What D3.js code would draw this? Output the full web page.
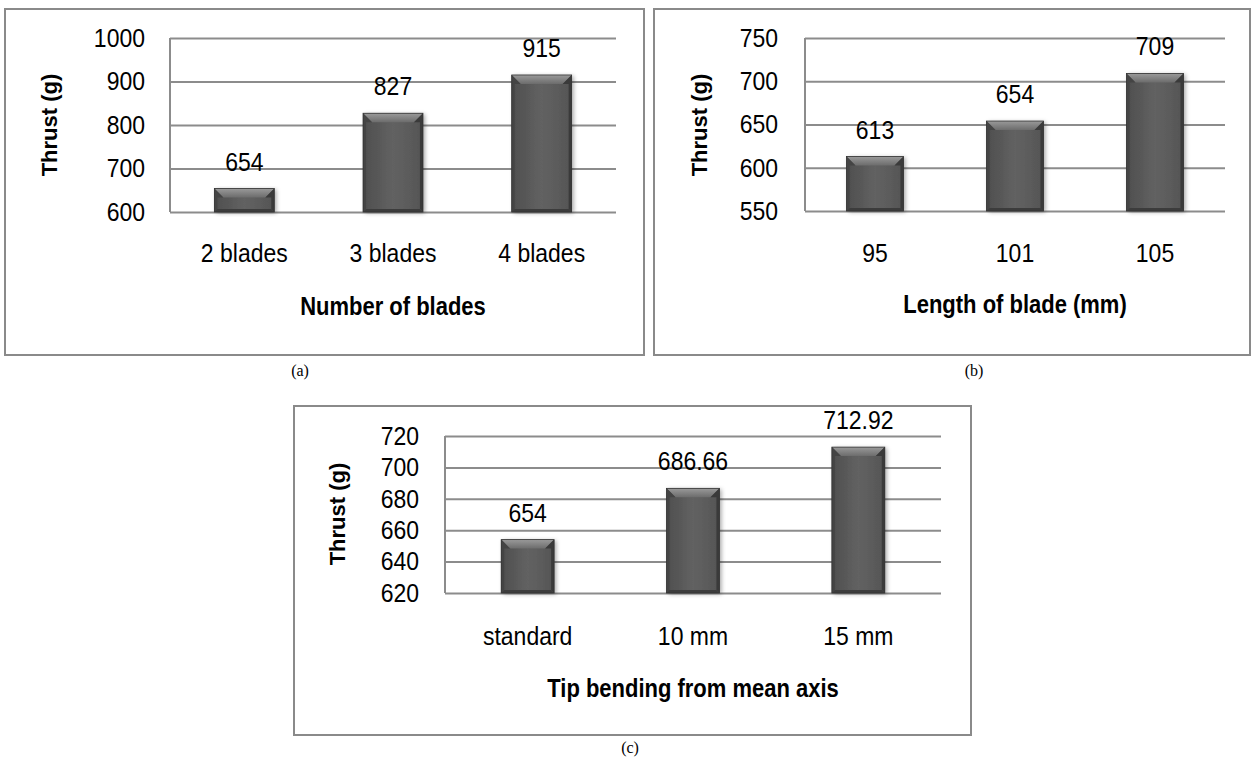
<!DOCTYPE html>
<html>
<head>
<meta charset="utf-8">
<script src="https://cdn.jsdelivr.net/npm/d3@7"></script>
<style>
  html, body { margin: 0; padding: 0; background: #fff; }
  svg { display: block; }
</style>
</head>
<body>
<div id="chart"></div>
<script>
// ---------- DATA ----------
const categoriesA = ["2 blades", "3 blades", "4 blades"];
const thrustA = [654, 827, 915];
const ticksA = [600, 700, 800, 900, 1000];
const xTitleA = "Number of blades";

const categoriesB = ["95", "101", "105"];
const thrustB = [613, 654, 709];
const ticksB = [550, 600, 650, 700, 750];
const xTitleB = "Length of blade (mm)";

const categoriesC = ["standard", "10 mm", "15 mm"];
const thrustC = [654, 686.66, 712.92];
const ticksC = [620, 640, 660, 680, 700, 720];
const xTitleC = "Tip bending from mean axis";

const yTitle = "Thrust (g)";
const captions = ["(a)", "(b)", "(c)"];

// ---------- SETUP ----------
const W = 1253, H = 762;
const svg = d3.select("#chart").append("svg").attr("width", W).attr("height", H);
const defs = svg.append("defs");

const f = defs.append("filter").attr("id", "shadow").attr("x", "-30%").attr("y", "-10%").attr("width", "160%").attr("height", "130%");
f.append("feDropShadow").attr("dx", 2).attr("dy", 1).attr("stdDeviation", 2.2)
  .attr("flood-color", "#000").attr("flood-opacity", 0.35);

const gBody = defs.append("linearGradient").attr("id", "body").attr("x1", 0).attr("x2", 1).attr("y1", 0).attr("y2", 0);
gBody.append("stop").attr("offset", "0%").attr("stop-color", "#4e4e4e");
gBody.append("stop").attr("offset", "50%").attr("stop-color", "#626262");
gBody.append("stop").attr("offset", "100%").attr("stop-color", "#555");
const gTop = defs.append("linearGradient").attr("id", "topbev").attr("x1", 0).attr("x2", 0).attr("y1", 0).attr("y2", 1);
gTop.append("stop").attr("offset", "0%").attr("stop-color", "#9a9a9a");
gTop.append("stop").attr("offset", "100%").attr("stop-color", "#6c6c6c");

const FONT = "'Liberation Sans', Arial, sans-serif";
const SY = 1.12;

function txt(g, x, y, s, o = {}) {
  return g.append("text")
    .attr("transform", `translate(${x},${y}) rotate(${o.rotate || 0}) scale(1,${o.sy || SY})`)
    .attr("text-anchor", o.anchor || "middle")
    .attr("font-family", o.family || FONT)
    .attr("font-size", o.size || 23)
    .attr("font-weight", o.weight || "normal")
    .attr("fill", "#000")
    .text(s);
}

function bar(g, x, y, w, h) {
  const grp = g.append("g");
  grp.append("rect").attr("x", x).attr("y", y).attr("width", w).attr("height", h)
    .attr("fill", "url(#body)").attr("filter", "url(#shadow)");
  const t = Math.min(9, h / 2), s = 3;
  grp.append("path").attr("d", `M${x},${y}L${x + w},${y}L${x + w - t},${y + t}L${x + t},${y + t}Z`).attr("fill", "url(#topbev)");
  grp.append("path").attr("d", `M${x},${y}L${x + t},${y + t}L${x + s},${y + t}L${x + s},${y + h - s}L${x},${y + h}Z`).attr("fill", "#444");
  grp.append("path").attr("d", `M${x + w},${y}L${x + w - t},${y + t}L${x + w - s},${y + t}L${x + w - s},${y + h - s}L${x + w},${y + h}Z`).attr("fill", "#3a3a3a");
  grp.append("path").attr("d", `M${x},${y + h}L${x + s},${y + h - s}L${x + w - s},${y + h - s}L${x + w},${y + h}Z`).attr("fill", "#3c3c3c");
  grp.append("rect").attr("x", x).attr("y", y).attr("width", w).attr("height", h)
    .attr("fill", "none").attr("stroke", "#333").attr("stroke-width", 0.8);
}

function panel(p) {
  const g = svg.append("g");
  // border
  g.append("rect").attr("x", p.box[0]).attr("y", p.box[1])
    .attr("width", p.box[2] - p.box[0]).attr("height", p.box[3] - p.box[1])
    .attr("fill", "#fff").attr("stroke", "#8a8a8a").attr("stroke-width", 2);

  const x = d3.scaleBand().domain(p.cats).range([p.plot[0], p.plot[2]]).padding(0);
  const y = d3.scaleLinear().domain([p.ticks[0], p.ticks[p.ticks.length - 1]]).range([p.plot[3], p.plot[1]]);

  // gridlines via axis
  const grid = g.append("g").attr("transform", `translate(${p.plot[0]},0)`)
    .call(d3.axisLeft(y).tickValues(p.ticks).tickSize(-(p.plot[2] - p.plot[0])).tickFormat(""));
  grid.select(".domain").remove();
  grid.selectAll(".tick line").attr("stroke", "#8c8c8c").attr("stroke-width", 2);
  // left axis line
  g.append("line").attr("x1", p.plot[0]).attr("x2", p.plot[0]).attr("y1", y.range()[1]).attr("y2", y.range()[0])
    .attr("stroke", "#8c8c8c").attr("stroke-width", 2);

  // tick labels via axis
  const ax = g.append("g").attr("transform", `translate(${p.plot[0]},0)`)
    .call(d3.axisLeft(y).tickValues(p.ticks).tickSize(0).tickPadding(p.plot[0] - p.tickRight).tickFormat(d3.format("d")));
  ax.select(".domain").remove();
  ax.selectAll(".tick text").attr("font-family", FONT).attr("font-size", 23).attr("fill", "#000")
    .attr("transform", `scale(1,${SY})`);

  // bars
  const bw = x.bandwidth() * p.barRatio;
  p.vals.forEach((v, i) => {
    const cx = x(p.cats[i]) + x.bandwidth() / 2;
    bar(g, cx - bw / 2, y(v), bw, y(p.ticks[0]) - y(v));
    txt(g, cx, y(v) - 18, String(v));
    txt(g, cx, p.catY, p.cats[i]);
  });

  // titles
  txt(g, (p.plot[0] + p.plot[2]) / 2, p.xTitleY, p.xTitle, { weight: "bold", size: 22, sy: 1.15 });
  txt(g, p.yTitleX, p.yTitleY, yTitle, { weight: "bold", size: 22, rotate: -90, sy: 1 });
  // caption
  txt(g, p.capX, p.capY, p.caption, { family: "'Liberation Serif', 'Times New Roman', serif", size: 16, sy: 1 });
}

panel({ box: [5, 9, 644, 355], plot: [170, 38, 616, 212], cats: categoriesA, vals: thrustA, ticks: ticksA,
  barRatio: 0.403, tickRight: 145, catY: 262, xTitle: xTitleA, xTitleY: 315, yTitleX: 57, yTitleY: 125,
  caption: captions[0], capX: 300, capY: 376 });
panel({ box: [654, 9, 1250, 355], plot: [805, 38, 1225, 211], cats: categoriesB, vals: thrustB, ticks: ticksB,
  barRatio: 0.407, tickRight: 778, catY: 262, xTitle: xTitleB, xTitleY: 313, yTitleX: 707, yTitleY: 125,
  caption: captions[1], capX: 974, capY: 376 });
panel({ box: [294, 406, 971, 735], plot: [445, 436, 941, 593], cats: categoriesC, vals: thrustC, ticks: ticksC,
  barRatio: 0.32, tickRight: 419, catY: 645, xTitle: xTitleC, xTitleY: 697, yTitleX: 345, yTitleY: 514,
  caption: captions[2], capX: 630, capY: 753 });
</script>
</body>
</html>
